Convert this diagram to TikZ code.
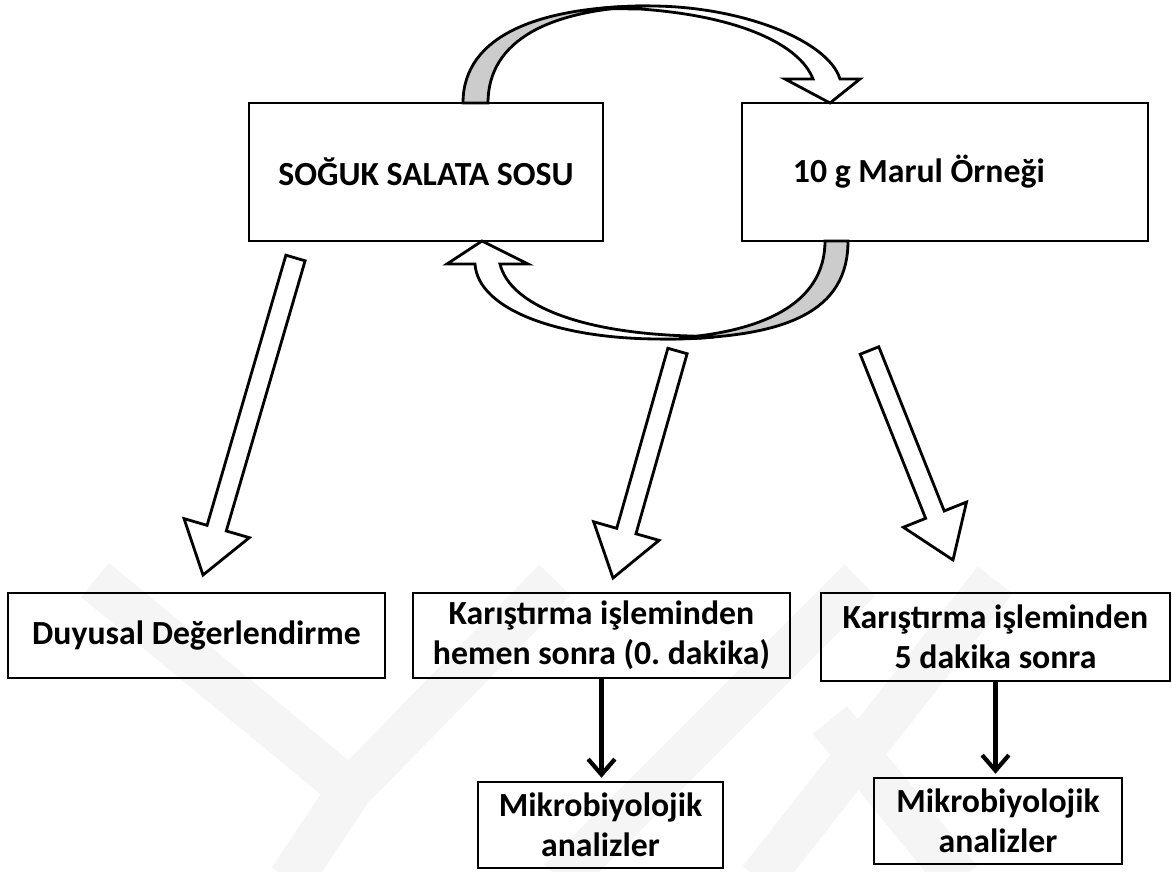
\documentclass[tikz,border=0pt]{standalone}
\usepackage{fontspec}
\setmainfont{Carlito}
\usetikzlibrary{calc,arrows.meta}
\frenchspacing

\tikzset{
  kutu/.style={draw, line width=2pt, font=\fontsize{24}{28.5}\selectfont\bfseries, align=center, inner sep=0pt},
  blokok/.style={draw, line width=2pt, fill=white, line join=miter},
  golge/.style={draw, line width=2pt, fill=black!20},
  ince/.style={line width=3pt, -{Straight Barb[length=11pt,width=19pt]}, shorten >=2pt},
  iz/.style={line width=1.1cm, black!4},
}

% hollow block arrow from #1 to #2
\newcommand{\kalinok}[2]{%
  \coordinate (hb) at ($(#2)!1.22cm!(#1)$);
  \draw[blokok] ($(#1)!0.25cm!90:(#2)$) -- ($(hb)!0.25cm!90:(#2)$)
    -- ($(hb)!0.85cm!90:(#2)$) -- (#2) -- ($(hb)!0.85cm!-90:(#2)$)
    -- ($(hb)!0.25cm!-90:(#2)$) -- ($(#1)!0.25cm!-90:(#2)$) -- cycle;
}

\begin{document}
\begin{tikzpicture}[x=0.025cm, y=-0.025cm]
\useasboundingbox (0,0) rectangle (1172,872);

% faint watermark
\draw[iz] (95,580) -- (350,790) -- (555,580);
\draw[iz] (350,790) -- (290,880);
\draw[iz] (860,580) -- (560,880);
\draw[iz] (995,580) -- (760,880);
\draw[iz] (830,720) -- (960,880);

% boxes
\node[kutu, minimum width=8.85cm, minimum height=3.45cm] (sos) at (426,172) {SOĞUK SALATA SOSU};
\node[kutu, minimum height=3.45cm, text width=7.6cm, inner xsep=1.275cm, align=flush left] (marul) at (945,172) {10 g Marul Örneği};
\node[kutu, minimum width=9.425cm, minimum height=2.125cm] (duyu) at (196.5,635.5) {Duyusal Değerlendirme};
\node[kutu, minimum width=9.425cm, minimum height=2.125cm] (hemen) at (601.5,635.5) {Karıştırma işleminden\\hemen sonra (0. dakika)};
\node[kutu, minimum width=8.725cm, minimum height=2.2cm] (bes) at (995.5,637) {Karıştırma işleminden\\5 dakika sonra};
\node[kutu, minimum width=6.125cm, minimum height=2.15cm] (mikroa) at (600.5,825) {Mikrobiyolojik\\analizler};
\node[kutu, minimum width=6.2cm, minimum height=2.15cm] (mikrob) at (998,821) {Mikrobiyolojik\\analizler};

% curved arrow on top
\draw[golge] (463,103) .. controls (463,35) and (540,6) .. (650,6)
  .. controls (550,9) and (488,40) .. (488,103) -- cycle;
\draw[blokok] (600,8.5) .. controls (617,6.5) and (633,6) .. (650,6)
  .. controls (740,6) and (828,40) .. (840,79) -- (860,79) -- (830,103)
  -- (785,79) -- (813,79) .. controls (800,45) and (740,16) .. (640,9) -- cycle;

% curved arrow below
\draw[golge] (848,241) .. controls (848,310) and (790,339) .. (660,339)
  .. controls (760,335) and (825,305) .. (825,241) -- cycle;
\draw[blokok] (714,337) .. controls (695,339) and (678,339) .. (660,339)
  .. controls (560,339) and (478,310) .. (475,264) -- (447,264) -- (482,241)
  -- (528,264) -- (500,264) .. controls (510,305) and (580,333) .. (690,336) -- cycle;

% block arrows
\coordinate (a1) at (295.5,258); \coordinate (a1u) at (203,575);
\coordinate (b1) at (677.5,351); \coordinate (b1u) at (613,578);
\coordinate (c1) at (869.5,350.5); \coordinate (c1u) at (953,560);
\kalinok{a1}{a1u}
\kalinok{b1}{b1u}
\kalinok{c1}{c1u}

% thin arrows
\draw[ince] (hemen.south) -- (hemen.south |- mikroa.north);
\draw[ince] (bes.south) -- (bes.south |- mikrob.north);
\end{tikzpicture}
\end{document}
